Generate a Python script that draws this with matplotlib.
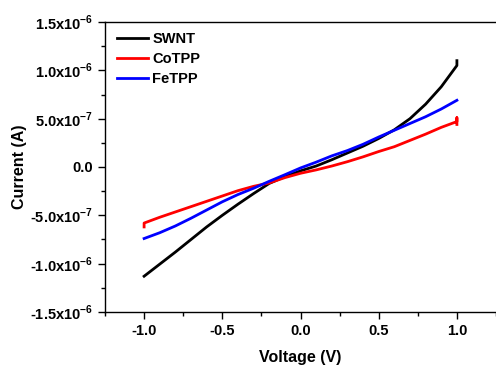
import numpy as np
import matplotlib
matplotlib.use("Agg")
import matplotlib.pyplot as plt
from matplotlib.ticker import FuncFormatter, MultipleLocator

plt.rcParams['font.family'] = ['Liberation Sans', 'DejaVu Sans']
plt.rcParams['font.weight'] = 'bold'
plt.rcParams['mathtext.fontset'] = 'custom'
plt.rcParams['mathtext.bf'] = 'Liberation Sans:bold'
plt.rcParams['mathtext.rm'] = 'Liberation Sans:bold'

# I-V sweeps, voltage in V, current in units of 1e-6 A
v_swnt = [-1.0, -0.9, -0.8, -0.7, -0.6, -0.5, -0.4, -0.3, -0.2, -0.1, 0.0,
          0.1, 0.2, 0.3, 0.4, 0.5, 0.6, 0.7, 0.8, 0.9, 1.0, 1.0]
i_swnt = [-1.13, -1.005, -0.88, -0.75, -0.62, -0.50, -0.385, -0.275, -0.17, -0.10, -0.04,
          0.01, 0.075, 0.145, 0.215, 0.295, 0.385, 0.50, 0.65, 0.83, 1.05, 1.10]

v_co = [-1.0, -1.0, -0.9, -0.8, -0.7, -0.6, -0.5, -0.4, -0.3, -0.2, -0.1, 0.0,
        0.1, 0.2, 0.3, 0.4, 0.5, 0.6, 0.7, 0.8, 0.9, 1.0, 1.0, 1.0]
i_co = [-0.62, -0.58, -0.52, -0.465, -0.41, -0.355, -0.30, -0.245, -0.20, -0.165, -0.11, -0.065,
        -0.03, 0.01, 0.055, 0.105, 0.16, 0.21, 0.275, 0.34, 0.41, 0.47, 0.51, 0.44]

v_fe = [-1.0, -0.9, -0.8, -0.7, -0.6, -0.5, -0.4, -0.3, -0.2, -0.1, 0.0,
        0.1, 0.2, 0.3, 0.4, 0.5, 0.6, 0.7, 0.8, 0.9, 1.0]
i_fe = [-0.74, -0.68, -0.61, -0.53, -0.445, -0.36, -0.285, -0.22, -0.148, -0.08, -0.01,
        0.05, 0.115, 0.17, 0.235, 0.31, 0.38, 0.45, 0.52, 0.60, 0.69]

series = [("SWNT", v_swnt, i_swnt, "black"),
          ("CoTPP", v_co, i_co, "red"),
          ("FeTPP", v_fe, i_fe, "blue")]


def sci_label(val, pos):
    if abs(val) < 1e-12:
        return "0.0"
    exp = int(np.floor(np.log10(abs(val)) + 1e-9))
    mant = val / 10 ** exp
    return r"%.1fx10$^{\mathbf{%d}}$" % (mant, exp)


fig = plt.figure(figsize=(4.96, 3.68), dpi=100)
ax = fig.add_axes([0.2117, 0.1522, 0.7883, 0.788])

for name, v, i, c in series:
    ax.plot(v, np.array(i) * 1e-6, color=c, lw=2.0, label=name)

ax.set_xlim(-1.25, 1.25)
ax.set_ylim(-1.5e-6, 1.5e-6)
ax.xaxis.set_major_locator(MultipleLocator(0.5))
ax.xaxis.set_minor_locator(MultipleLocator(0.25))
ax.yaxis.set_major_locator(MultipleLocator(5e-7))
ax.yaxis.set_minor_locator(MultipleLocator(2.5e-7))
ax.yaxis.set_major_formatter(FuncFormatter(sci_label))
ax.xaxis.set_major_formatter(FuncFormatter(lambda x, p: "%.1f" % x))
ax.tick_params(which='major', direction='out', length=5, width=1, labelsize=10.5)
ax.tick_params(which='minor', direction='out', length=3, width=1)
ax.spines['right'].set_visible(False)
for s in ['left', 'bottom', 'top']:
    ax.spines[s].set_linewidth(1.0)

ax.set_xlabel("Voltage (V)", fontsize=11.5, fontweight='bold', labelpad=9)
ax.set_ylabel("Current (A)", fontsize=11.5, fontweight='bold', labelpad=2)

ax.legend(loc='upper left', frameon=False, fontsize=10.5, handlelength=2.1,
          handletextpad=0.3, labelspacing=0.42, borderaxespad=0.3,
          bbox_to_anchor=(0.005, 1.0))

fig.savefig("out.png", dpi=100)
